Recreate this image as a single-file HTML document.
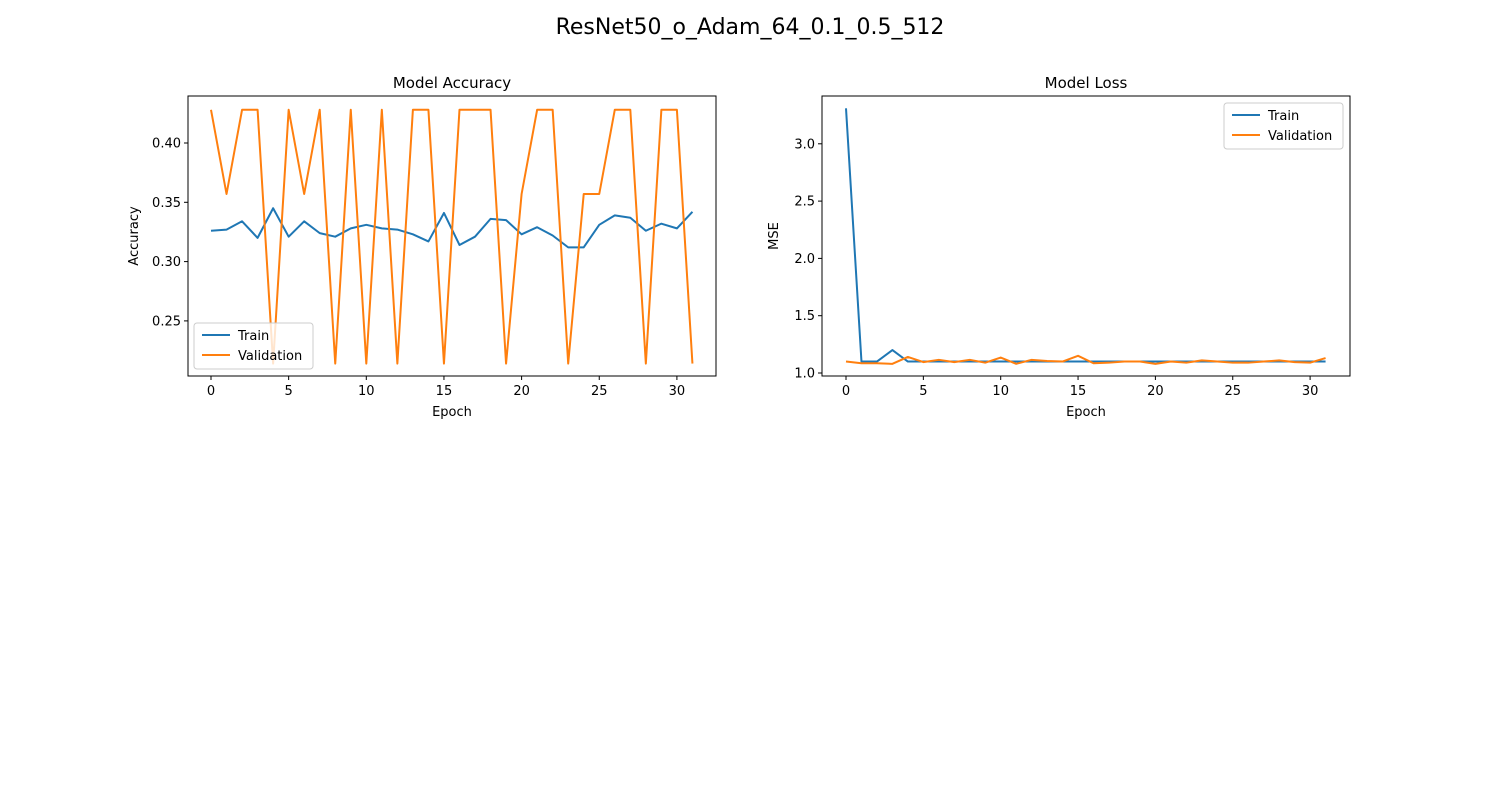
<!DOCTYPE html>
<html><head><meta charset="utf-8"><style>
body{margin:0;background:#fff;font-family:"Liberation Sans","DejaVu Sans",sans-serif}
svg text{font-family:"DejaVu Sans","Liberation Sans",sans-serif}
</style></head><body>
<svg id="fig" width="1500" height="800" xmlns="http://www.w3.org/2000/svg">
<rect width="1500" height="800" fill="#fff"/>
<text x="750" y="34" font-size="22" text-anchor="middle">ResNet50_o_Adam_64_0.1_0.5_512</text>
</svg>
<script>
const epochs=[...Array(32).keys()];
const accTrain=[0.326,0.327,0.334,0.320,0.345,0.321,0.334,0.324,0.321,0.328,0.331,0.328,0.327,0.323,0.317,0.341,0.314,0.321,0.336,0.335,0.323,0.329,0.322,0.312,0.312,0.331,0.339,0.337,0.326,0.332,0.328,0.342];
const accVal=[0.428,0.357,0.428,0.428,0.214,0.428,0.357,0.428,0.214,0.428,0.214,0.428,0.214,0.428,0.428,0.214,0.428,0.428,0.428,0.214,0.357,0.428,0.428,0.214,0.357,0.357,0.428,0.428,0.214,0.428,0.428,0.214];
const lossTrain=[3.31,1.10,1.10,1.20,1.10,1.10,1.10,1.10,1.10,1.10,1.10,1.10,1.10,1.10,1.10,1.10,1.10,1.10,1.10,1.10,1.10,1.10,1.10,1.10,1.10,1.10,1.10,1.10,1.10,1.10,1.10,1.10];
const lossVal=[1.10,1.085,1.085,1.08,1.14,1.095,1.115,1.095,1.115,1.09,1.135,1.08,1.115,1.105,1.10,1.15,1.085,1.09,1.10,1.10,1.08,1.10,1.09,1.11,1.10,1.09,1.09,1.10,1.11,1.095,1.09,1.13];
const xTicks=[0,5,10,15,20,25,30];
const accTicks=[0.25,0.30,0.35,0.40];
const lossTicks=[1.0,1.5,2.0,2.5,3.0];
const NS="http://www.w3.org/2000/svg";
const fig=document.getElementById('fig');
function mk(tag,attrs,parent,txt){const e=document.createElementNS(NS,tag);for(const k in attrs)e.setAttribute(k,attrs[k]);if(txt!==undefined)e.textContent=txt;(parent||fig).appendChild(e);return e;}
function panel(cfg){
 const g=mk('g',{});
 
 
 const xs=v=>cfg.x0+(v-0)*cfg.xpu;
 const ys=v=>cfg.y0-(v-cfg.v0)*cfg.ypu;
 const colors=['#1f77b4','#ff7f0e'];
 [cfg.train,cfg.val].forEach((s,i)=>{
  const p=mk('polyline',{points:epochs.map(e=>xs(e)+','+ys(s[e])).join(' '),fill:'none',stroke:colors[i],'stroke-width':2,'stroke-linejoin':'round'},g);
  
  
 });
 mk('rect',{x:cfg.L,y:96,width:528,height:280,fill:'none',stroke:'#000','stroke-width':1},g);
 xTicks.forEach(t=>{const x=xs(t);mk('line',{x1:x,x2:x,y1:376,y2:380,stroke:'#000'},g);
  const tx=mk('text',{x:x,y:395,'font-size':13,'text-anchor':'middle'},g,String(t));
  });
 cfg.yt.forEach(t=>{const y=ys(t);mk('line',{x1:cfg.L-4,x2:cfg.L,y1:y,y2:y,stroke:'#000'},g);
  const tx=mk('text',{x:cfg.L-7,y:y+4.5,'font-size':13,'text-anchor':'end'},g,t.toFixed(cfg.dec));
  });
 const t=mk('text',{x:cfg.L+264,y:88,'font-size':15,'text-anchor':'middle'},g,cfg.title);
 
 const xl=mk('text',{x:cfg.L+264,y:416,'font-size':13,'text-anchor':'middle'},g,'Epoch');
 
 const yx=cfg.L-cfg.ylOff;
 const yl=mk('text',{x:yx,y:236,'font-size':13,'text-anchor':'middle',transform:'rotate(-90 '+yx+' 236)'},g,cfg.ylabel);
 
 const lg=mk('g',{},g);
 
 mk('rect',{x:cfg.lx,y:cfg.ly,width:119,height:46,rx:3,fill:'#fff','fill-opacity':0.8,stroke:'#ccc'},lg);
 ['Train','Validation'].forEach((n,i)=>{const y=cfg.ly+12+i*20;
  mk('line',{x1:cfg.lx+8,x2:cfg.lx+36,y1:y,y2:y,stroke:colors[i],'stroke-width':2},lg);
  const e=mk('text',{x:cfg.lx+44,y:y+5,'font-size':13},lg,n);
  });
}
panel({name:'accuracy-chart',L:188,x0:211,xpu:15.53,y0:143,v0:0.40,ypu:59.3/0.05,train:accTrain,val:accVal,yt:accTicks,dec:2,title:'Model Accuracy',ylabel:'Accuracy',ylOff:50,lx:194,ly:323});
panel({name:'loss-chart',L:822,x0:846,xpu:15.47,y0:373,v0:1.0,ypu:57.3/0.5,train:lossTrain,val:lossVal,yt:lossTicks,dec:1,title:'Model Loss',ylabel:'MSE',ylOff:44,lx:1224,ly:103});
</script>
</body></html>
